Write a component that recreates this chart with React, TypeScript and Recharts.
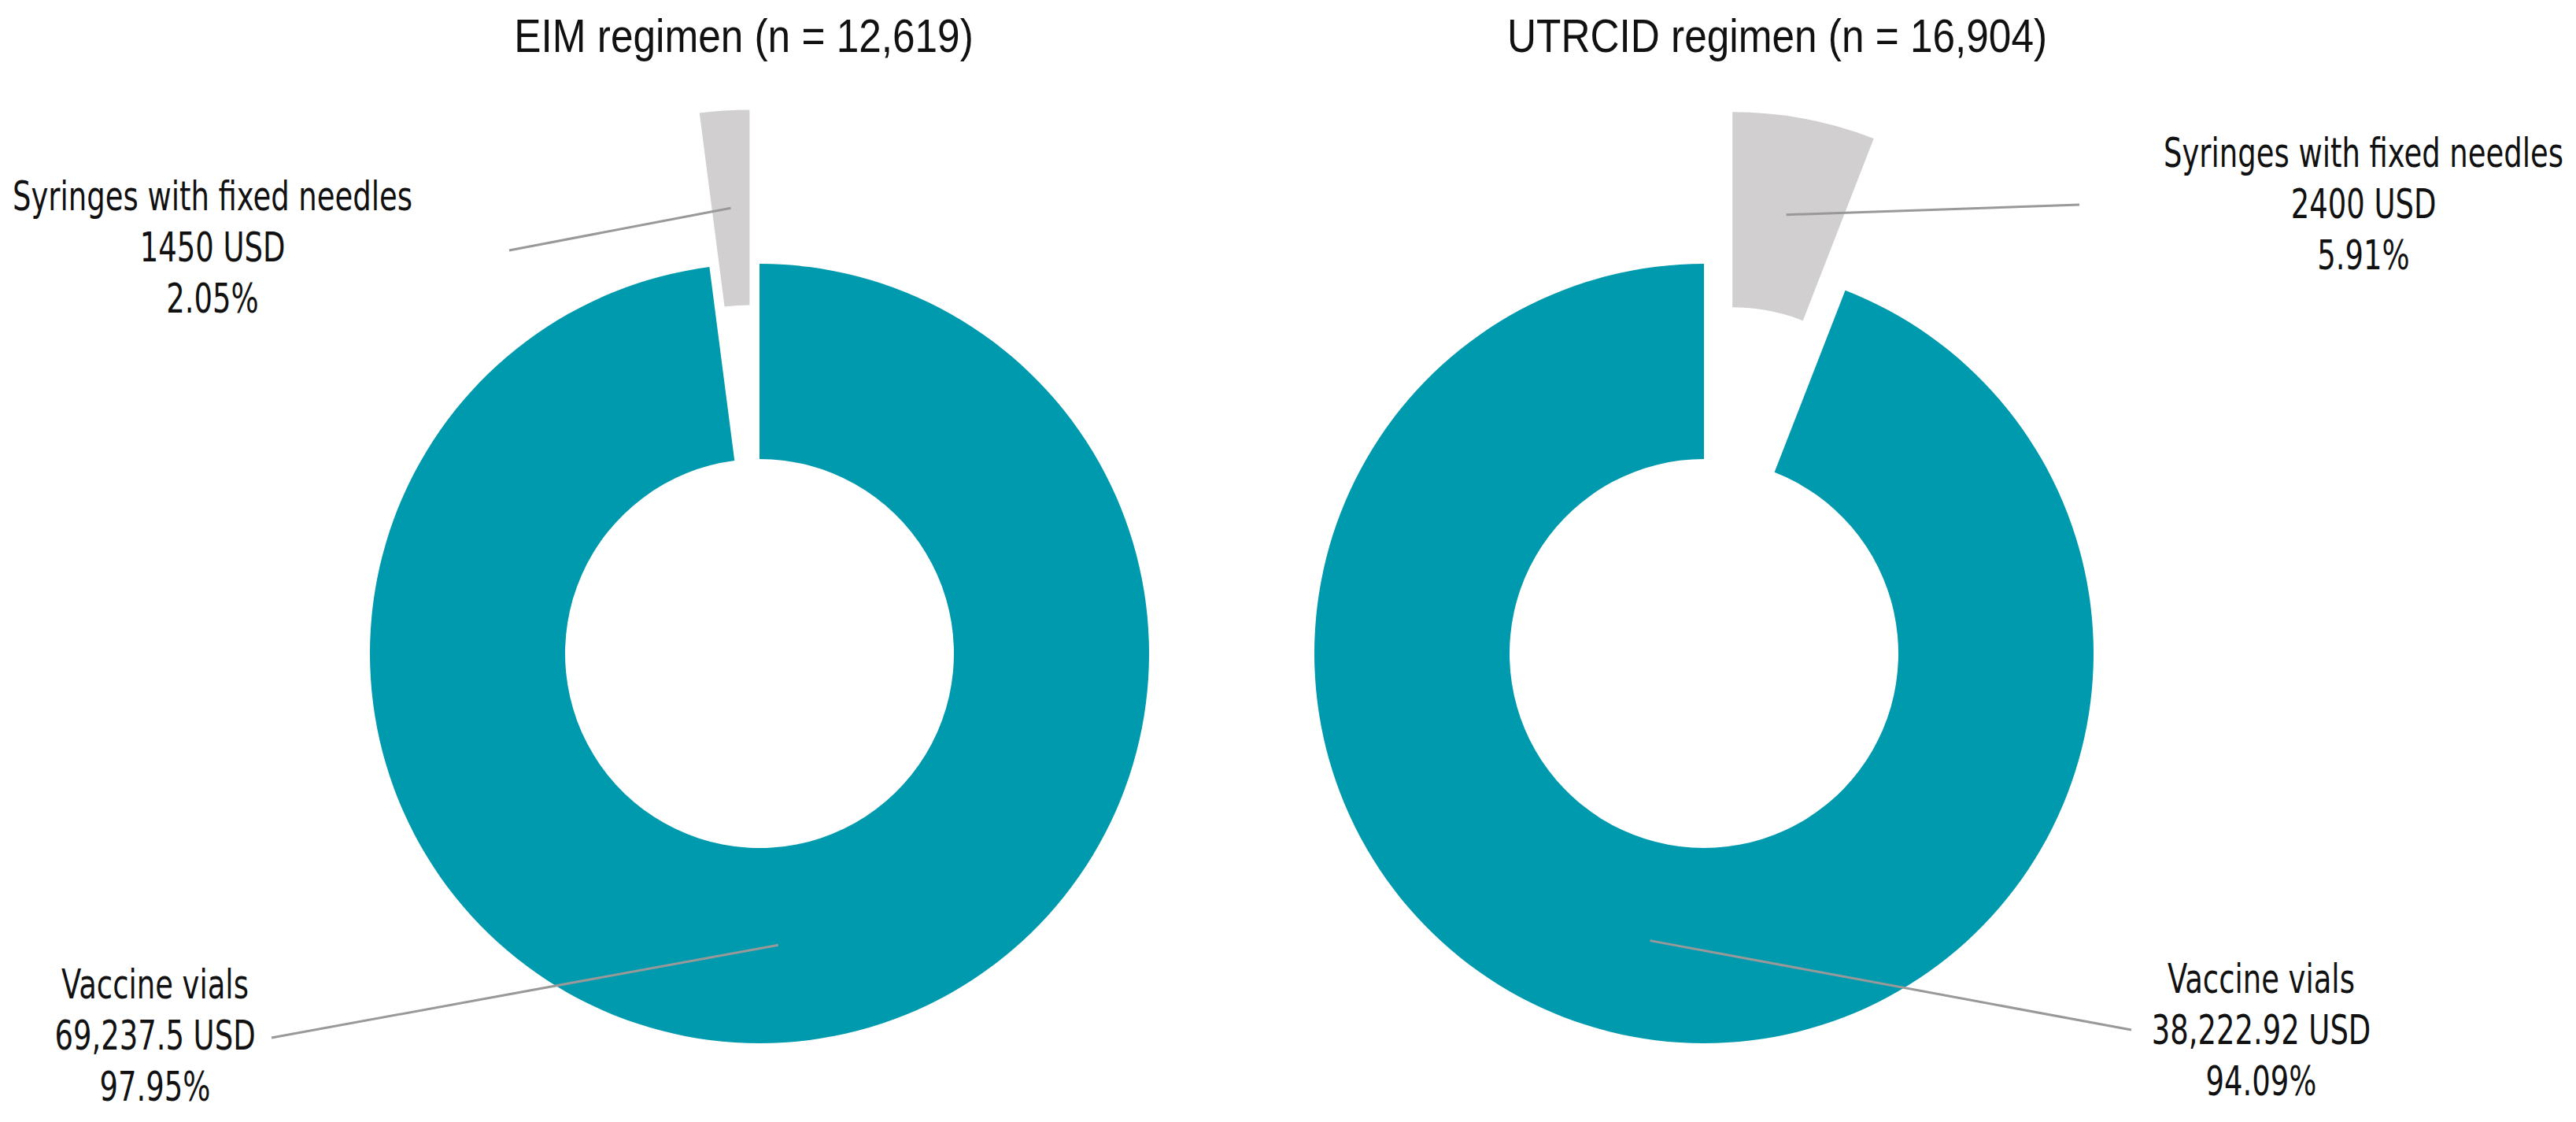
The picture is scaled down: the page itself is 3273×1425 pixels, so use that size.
import { PieChart, Pie, Cell } from 'recharts';

const categories = ['Vaccine vials', 'Syringes with fixed needles'];
const eimValues = [69237.5, 1450];
const eimValueLabels = ['69,237.5 USD', '1450 USD'];
const eimShares = ['97.95%', '2.05%'];
const utrcidValues = [38222.92, 2400];
const utrcidValueLabels = ['38,222.92 USD', '2400 USD'];
const utrcidShares = ['94.09%', '5.91%'];
const titles = ['EIM regimen (n = 12,619)', 'UTRCID regimen (n = 16,904)'];

const TEAL = '#009aae';
const GREY = '#d1cfd0';
const LINE = '#999999';
const LABEL_FONT = '"DejaVu Sans Condensed", "DejaVu Sans", sans-serif';
const TITLE_FONT = '"Liberation Sans", Arial, sans-serif';
const RAD = Math.PI / 180;

const W = 3273;
const H = 1425;
const INNER = 247;
const OUTER = 495;
const EXPLODE = 196;
const LABEL_SIZE = 52;
const LABEL_SQUEEZE = 0.79;
const LINE_GAP = 65;

// end of leader line and centre of the first text line, per slice
const eimLabelPos = [
  { lx: 345, ly: 1318, tx: 197, ty: 1250 },
  { lx: 647, ly: 318, tx: 270, ty: 249 },
];
const utrcidLabelPos = [
  { lx: 2708, ly: 1308, tx: 2873, ty: 1243 },
  { lx: 2642, ly: 260, tx: 3003, ty: 194 },
];

const donuts = [
  { title: titles[0], values: eimValues, valueLabels: eimValueLabels, shares: eimShares,
    cx: 965, cy: 830, startAngle: 90, endAngle: -270, labelPos: eimLabelPos, titleX: 945 },
  { title: titles[1], values: utrcidValues, valueLabels: utrcidValueLabels, shares: utrcidShares,
    cx: 2165, cy: 830, startAngle: 90, endAngle: 450, labelPos: utrcidLabelPos, titleX: 2258 },
];

const makeLabel = (d: any, idx: number) => (props: any) => {
  if (props.index !== idx) return null;
  const { cx, cy, midAngle, innerRadius, outerRadius } = props;
  const r = (innerRadius + outerRadius) / 2;
  const sx = cx + r * Math.cos(-midAngle * RAD);
  const sy = cy + r * Math.sin(-midAngle * RAD);
  const p = d.labelPos[idx];
  const lines = [categories[idx], d.valueLabels[idx], d.shares[idx]];
  return (
    <g>
      <line x1={sx} y1={sy} x2={p.lx} y2={p.ly} stroke={LINE} strokeWidth={3} />
      {lines.map((t, i) => (
        <text key={i} x={0} y={0} transform={`translate(${p.tx},${p.ty + i * LINE_GAP}) scale(${LABEL_SQUEEZE},1)`}
          textAnchor="middle" dominantBaseline="central"
          fontFamily={LABEL_FONT} fontSize={LABEL_SIZE} fill="#111">
          {t}
        </text>
      ))}
    </g>
  );
};

export default function App() {
  return (
    <div style={{ position: 'relative', width: W, height: H, background: '#fff' }}>
      <style>{'body{margin:0;overflow:hidden}'}</style>
      <PieChart width={W} height={H} margin={{ top: 0, right: 0, bottom: 0, left: 0 }}>
        {donuts.map((d, k) => {
          const data = categories.map((name, i) => ({ name, value: d.values[i] }));
          const total = d.values.reduce((a, b) => a + b, 0);
          const f = d.values[1] / total;
          const sweep = d.endAngle - d.startAngle;
          const mid = d.startAngle + sweep * (1 - f / 2);
          const dx = EXPLODE * Math.cos(mid * RAD);
          const dy = -EXPLODE * Math.sin(mid * RAD);
          return [
            <Pie key={'main' + k} data={data} dataKey="value" cx={d.cx} cy={d.cy}
              innerRadius={INNER} outerRadius={OUTER} startAngle={d.startAngle} endAngle={d.endAngle}
              stroke="none" isAnimationActive={false} labelLine={false} label={makeLabel(d, 0)}>
              <Cell fill={TEAL} />
              <Cell fill="none" />
            </Pie>,
            <Pie key={'out' + k} data={data} dataKey="value" cx={d.cx + dx} cy={d.cy + dy}
              innerRadius={INNER} outerRadius={OUTER} startAngle={d.startAngle} endAngle={d.endAngle}
              stroke="none" isAnimationActive={false} labelLine={false} label={makeLabel(d, 1)}>
              <Cell fill="none" />
              <Cell fill={GREY} />
            </Pie>,
          ];
        })}
      </PieChart>
      {donuts.map((d, k) => (
        <div key={k} style={{ position: 'absolute', left: d.titleX, top: 46,
          transform: 'translate(-50%, -50%) scaleX(0.87)',
          fontFamily: TITLE_FONT, fontSize: 59, lineHeight: 1, whiteSpace: 'nowrap', color: '#111' }}>
          {d.title}
        </div>
      ))}
    </div>
  );
}
